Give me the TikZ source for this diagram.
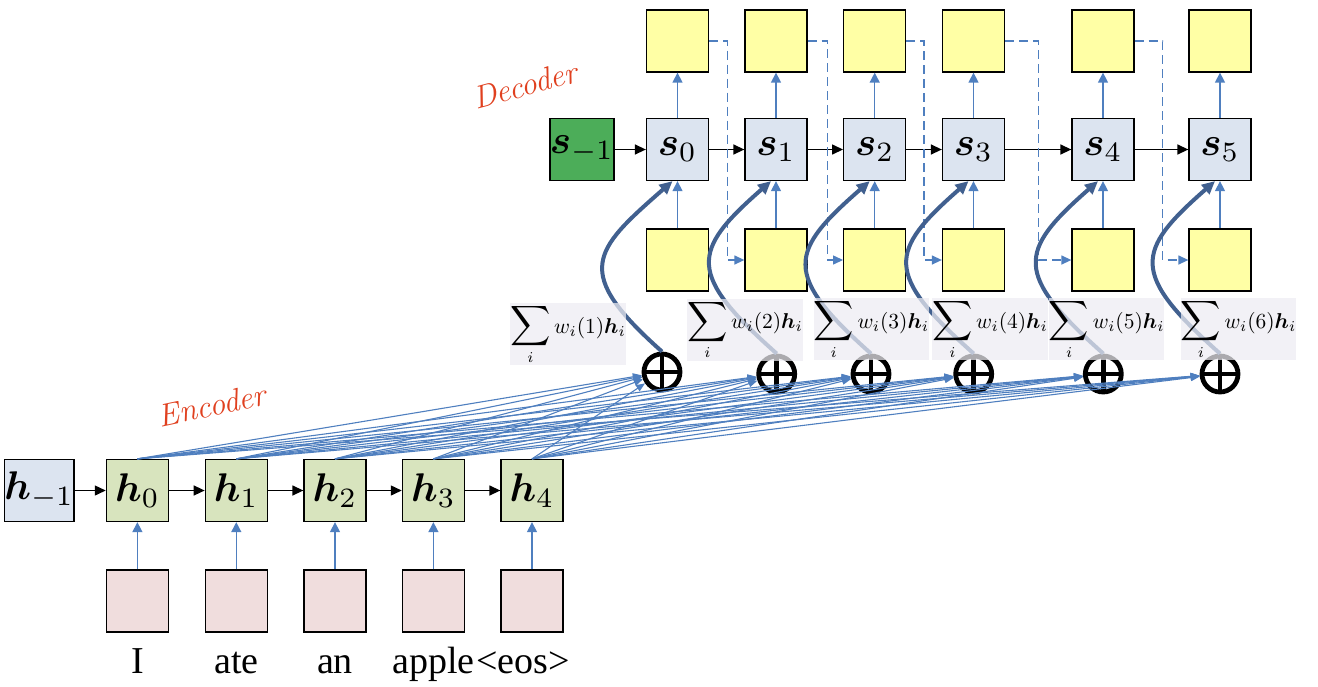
\documentclass[tikz,border=0pt]{standalone}
\usepackage{amsmath,bm}
\usepackage{fontspec}
\newfontfamily\timesf{Liberation Serif}
\usetikzlibrary{arrows.meta,calc}
\definecolor{yel}{HTML}{FFFFA5}
\definecolor{sfill}{HTML}{DCE4F0}
\definecolor{sgreen}{HTML}{4CAD59}
\definecolor{hgreen}{HTML}{D8E4BE}
\definecolor{pinkb}{HTML}{F0DDDD}
\definecolor{lblue}{HTML}{4F7FBF}
\definecolor{dblue}{HTML}{41608F}
\definecolor{lblfill}{HTML}{EDECF2}
\definecolor{hand}{HTML}{E0401F}
\newcommand{\Lg}[1]{\scalebox{4}{$#1$}}
\newcommand{\Sm}[1]{\scalebox{2.15}{$\displaystyle\mathop{\scalebox{1.3}{$\displaystyle\sum$}}\limits_i #1$}}
\begin{document}
\begin{tikzpicture}[x=1pt,y=-1pt,
  sq/.style={draw=black,line width=1.3pt,minimum width=62pt,minimum height=62pt,inner sep=0pt},
  ybox/.style={sq,fill=yel},
  sbox/.style={sq,fill=sfill},
  gbox/.style={sq,fill=sgreen},
  hbox/.style={sq,fill=hgreen},
  pbox/.style={sq,fill=pinkb},
  word/.style={anchor=base,inner sep=0pt,font={\timesf\fontsize{38}{38}\selectfont}},
  blk/.style={draw=black,line width=1.4pt,-{Triangle[length=11pt,width=10pt]}},
  thin/.style={draw=lblue,line width=1.4pt,-{Triangle[length=10pt,width=10pt]}},
  fan/.style={draw=lblue,line width=1.1pt,-{Triangle[length=9pt,width=7pt]}},
  dasharrow/.style={draw=lblue,line width=1.3pt,dash pattern=on 9pt off 5pt,-{Triangle[length=10pt,width=9pt]}},
  thick/.style={draw=dblue,line width=4pt,-{Triangle[length=13pt,width=12pt]}},
  oplus/.style={circle,draw=black,line width=4.8pt,minimum size=36pt,inner sep=0pt,
    path picture={\draw[line width=4.8pt] (path picture bounding box.north) -- (path picture bounding box.south)
      (path picture bounding box.west) -- (path picture bounding box.east);}},
  lbl/.style={fill=lblfill,fill opacity=0.72,text opacity=1,minimum width=110pt,minimum height=62pt,inner sep=0pt},
  handw/.style={text=hand,font=\itshape\fontsize{32}{32}\selectfont,inner sep=0pt}
]
\useasboundingbox (0,0) rectangle (1318,686);

% decoder
\node[gbox] (sm) at (582,149.5) {\Lg{\bm{s}_{-1}}};
\foreach \i/\x in {0/677.5,1/776,2/874.7,3/973.5,4/1103,5/1220}{
  \node[sbox] (s\i) at (\x,149.5) {\Lg{\bm{s}_{\i}}};
  \node[ybox] (t\i) at (\x,41) {};
  \node[ybox] (b\i) at (\x,260) {};
}
\draw[blk] (sm) -- (s0);
\draw[blk] (s0) -- (s1);
\draw[blk] (s1) -- (s2);
\draw[blk] (s2) -- (s3);
\draw[blk] (s3) -- (s4);
\draw[blk] (s4) -- (s5);
\foreach \i in {0,...,5}{
  \draw[thin] (s\i) -- (t\i);
  \draw[thin] (b\i) -- (s\i);
}
\draw[dasharrow] (t0.east) -- ++(18.4,0) |- (b1.west);
\draw[dasharrow] (t1.east) -- ++(20,0) |- (b2.west);
\draw[dasharrow] (t2.east) -- ++(17.6,0) |- (b3.west);
\draw[dasharrow] (t3.east) -- ++(33,0) |- (b4.west);
\draw[dasharrow] (t4.east) -- ++(28,0) |- (b5.west);

% encoder
\node[sbox] (hm) at (39.2,490.5) {\Lg{\bm{h}_{-1}}};
\foreach \i/\x in {0/137.4,1/236.3,2/335,3/433.4,4/532}{
  \node[hbox] (h\i) at (\x,490.5) {\Lg{\bm{h}_{\i}}};
  \node[pbox] (x\i) at (\x,601) {};
  \draw[thin] (x\i) -- (h\i);
}
\draw[blk] (hm) -- (h0);
\draw[blk] (h0) -- (h1);
\draw[blk] (h1) -- (h2);
\draw[blk] (h2) -- (h3);
\draw[blk] (h3) -- (h4);
\node[word] (w0) at (137.4,673) {I};
\node[word] (w1) at (236.3,673) {ate};
\node[word] (w2) at (335,673) {an};
\node[word] (w3) at (433.4,673) {apple};
\node[word] (w4) at (523,673) {<eos>};

% sums
\node[oplus] (p1) at (662,372) {};
\node[oplus] (p2) at (776.7,374) {};
\node[oplus] (p3) at (871,374) {};
\node[oplus] (p4) at (973.7,374) {};
\node[oplus] (p5) at (1103.3,374) {};
\node[oplus] (p6) at (1220,374) {};
\foreach \h in {h0,h1,h2,h3,h4}{
  \foreach \p in {p1,p2,p3,p4,p5,p6}{
    \draw[fan] (\h.north) -- (\p);
  }
}
\foreach \p/\s in {p1/s0,p2/s1,p3/s2,p4/s3,p5/s4,p6/s5}{
  \draw[thick] (\p.north) .. controls ($(\p.north)+(-90,-80)$) and ($(\s.south)+(-85,70)$) .. ([xshift=-5pt]\s.south);
}
\node[lbl] (l1) at (568,334) {\Sm{w_i(1)\bm{h}_i}};
\node[lbl] (l2) at (745,329.5) {\Sm{w_i(2)\bm{h}_i}};
\node[lbl] (l3) at (871.3,329) {\Sm{w_i(3)\bm{h}_i}};
\node[lbl] (l4) at (990,329) {\Sm{w_i(4)\bm{h}_i}};
\node[lbl] (l5) at (1106.7,329) {\Sm{w_i(5)\bm{h}_i}};
\node[lbl] (l6) at (1238.5,329) {\Sm{w_i(6)\bm{h}_i}};

% handwriting
\node[handw,rotate=15] (dec) at (525,85) {Decoder};
\node[handw,rotate=12] (enc) at (212,405) {Encoder};
\end{tikzpicture}
\end{document}
